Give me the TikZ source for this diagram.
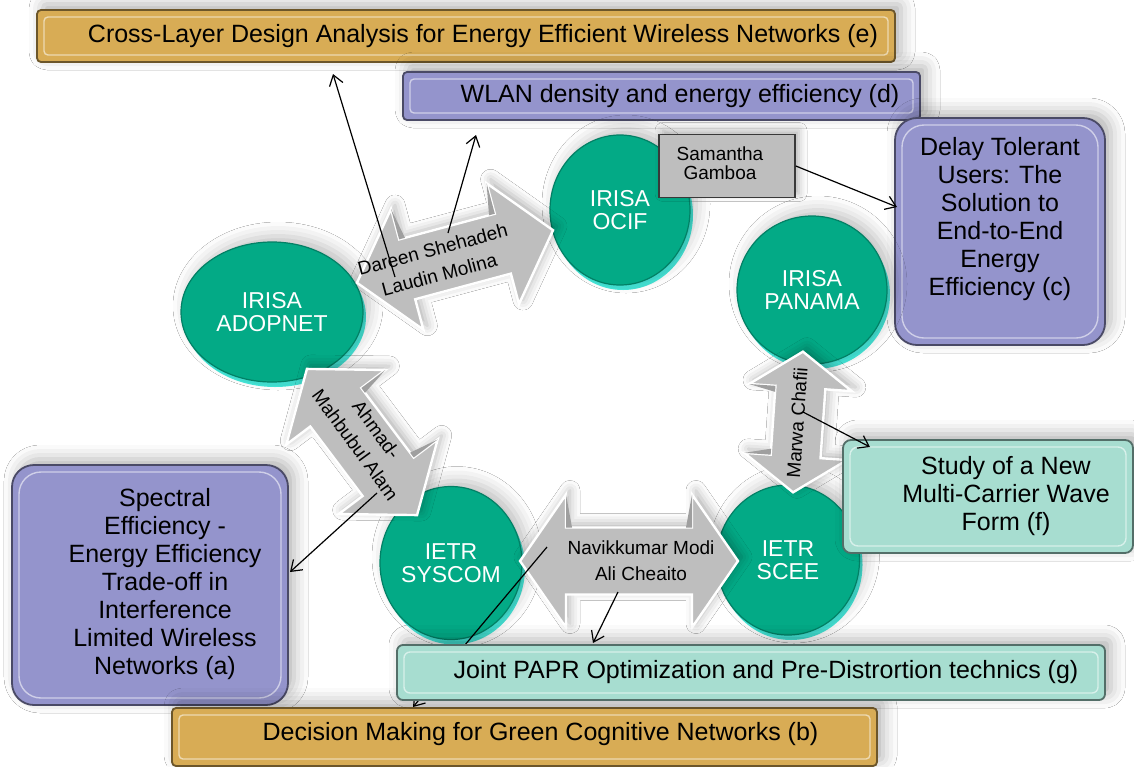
\documentclass[tikz,border=0pt]{standalone}
\usepackage{fontspec}
\setmainfont{Liberation Sans}
\usetikzlibrary{shapes.geometric,arrows.meta,shadows.blur}
\definecolor{gold}{HTML}{D8AC55}
\definecolor{lav}{HTML}{9494CC}
\definecolor{mint}{HTML}{A7DDD0}
\definecolor{orbteal}{HTML}{03AA86}
\definecolor{orbcyan}{HTML}{45E6D8}
\definecolor{arrgray}{HTML}{BEBEBE}
\newcommand\mlines[1]{\begin{tabular}{@{}c@{}}#1\end{tabular}}
% #1 name, #2 cx, #3 cy, #4 rotation, #5 length, #6 head width, #7 body width, #8 head length
\newcommand\dblarr[8]{%
  \begin{scope}[shift={(#2,#3)}, rotate=#4]
    \coordinate (#1) at (0,0);
    \path[arrowbody] ({-#5/2},0) -- ({-#5/2+#8},{-#6/2}) -- ({-#5/2+#8},{-#7/2})
      -- ({#5/2-#8},{-#7/2}) -- ({#5/2-#8},{-#6/2}) -- ({#5/2},0)
      -- ({#5/2-#8},{#6/2}) -- ({#5/2-#8},{#7/2}) -- ({-#5/2+#8},{#7/2})
      -- ({-#5/2+#8},{#6/2}) -- cycle;
    \fill[gray!75] ({-#5/2+#8},{-#6/2}) -- ({-#5/2+#8},{-#7/2}) -- ({-#5/2+#8+6},{-#7/2}) -- cycle;
    \fill[gray!75] ({#5/2-#8},{-#6/2}) -- ({#5/2-#8},{-#7/2}) -- ({#5/2-#8-6},{-#7/2}) -- cycle;
  \end{scope}}
\begin{document}
\begin{tikzpicture}[x=0.5pt,y=-0.5pt,
  every node/.style={inner sep=0pt},
  panel/.style 2 args={rectangle, rounded corners=#2, fill=#1, draw=#1!50!black,
    line width=0.9pt, font=\fontsize{12.5}{14}\selectfont,
    blur shadow={shadow xshift=3pt,shadow yshift=3pt,shadow blur radius=7pt,shadow opacity=30},
    path picture={\draw[#1!45!white, line width=0.7pt, rounded corners=#2]
      ([shift={(3.5pt,3.5pt)}]path picture bounding box.south west) rectangle
      ([shift={(-3.5pt,-3.5pt)}]path picture bounding box.north east);}},
  orb/.style={ellipse, fill=orbteal, draw=orbteal!75!black, line width=0.6pt,
    text=white, font=\fontsize{11.5}{11.5}\selectfont, align=center,
    blur shadow={shadow xshift=3pt,shadow yshift=3pt,shadow blur radius=7pt,shadow opacity=25}},
  rim/.style={fill=orbcyan},
  arrowbody/.style={fill=arrgray, draw=white, line width=1.2pt, line join=miter,
    blur shadow={shadow xshift=2pt,shadow yshift=2pt,shadow blur radius=5pt,shadow opacity=30}},
  lbl/.style={font=\fontsize{9.5}{13}\selectfont, align=center, text=black},
  conn/.style={line width=0.6pt, -{Straight Barb[length=5pt,width=7pt]}}]
\useasboundingbox (0,0) rectangle (1134,766);
\fill[white] (0,0) rectangle (1134,766);

% boxes
\node[panel={gold}{2pt}, minimum width=429pt, minimum height=26pt] (e) at (466,36)
  {\hspace*{17pt}Cross-Layer Design Analysis for Energy Efficient Wireless Networks (e)};
\node[panel={lav}{2pt}, minimum width=258.5pt, minimum height=24pt] (d) at (661.5,96)
  {\hspace*{18.5pt}WLAN density and energy efficiency (d)};
\node[panel={lav}{11pt}, minimum width=105pt, minimum height=113.5pt] (c) at (1000,231.5)
  {\mlines{Delay Tolerant\\Users: The\\Solution to\\End-to-End\\Energy\\Efficiency (c)\rule[-16pt]{0pt}{1pt}}};
\node[panel={lav}{11pt}, minimum width=138pt, minimum height=120pt] (a) at (150,585)
  {\hspace*{15pt}\mlines{Spectral\\Efficiency -\\Energy Efficiency\\Trade-off in\\Interference\\Limited Wireless\\Networks (a)}};
\node[panel={gold}{2pt}, minimum width=352.5pt, minimum height=29pt] (b) at (524.5,737)
  {\hspace*{16pt}Decision Making for Green Cognitive Networks (b)\rule[-5.5pt]{0pt}{1pt}};

% orbs
\fill[rim] (623,215) ellipse [x radius=70, y radius=75];
\node[orb, minimum width=70pt, minimum height=75pt] (ocif) at (620,210) {IRISA\\OCIF};
\fill[rim] (815,295) ellipse [x radius=75, y radius=74];
\node[orb, minimum width=75pt, minimum height=74pt] (panama) at (812,290) {IRISA\\PANAMA};
\fill[rim] (275,317) ellipse [x radius=91, y radius=70];
\node[orb, minimum width=91pt, minimum height=70pt] (adopnet) at (272,312) {IRISA\\ADOPNET};
\fill[rim] (454,568) ellipse [x radius=71, y radius=76.5];
\node[orb, minimum width=71pt, minimum height=76.5pt] (syscom) at (451,563) {IETR\\SYSCOM};
\fill[rim] (791,565) ellipse [x radius=71.5, y radius=75];
\node[orb, minimum width=71.5pt, minimum height=75pt] (scee) at (788,560) {IETR\\SCEE};

% double block arrows
\dblarr{ar1}{455}{256.5}{15}{203}{125}{62}{52}
\dblarr{ar2}{362}{442}{-53}{183}{124}{64}{48}
\dblarr{ar3}{629}{561}{0}{218}{133}{67}{46}
\dblarr{ar4}{798}{422}{86}{141}{103}{50}{36}

\node[lbl, rotate=15] (l1) at (436,262) {Dareen Shehadeh\\Laudin Molina};
\node[lbl, rotate=-54] (l2) at (366,437) {Ahmad-\\Mahbubul Alam};
\node[lbl] (l3) at (641,561) {Navikkumar Modi\\Ali Cheaito};
\node[lbl, rotate=86] (l4) at (797,423) {Marwa Chafii};

% Samantha box
\node[rectangle, fill=arrgray, draw=gray!45!black, line width=0.8pt,
  minimum width=68pt, minimum height=31.5pt, font=\fontsize{9.5}{9.5}\selectfont,
  blur shadow={shadow xshift=2pt,shadow yshift=2pt,shadow blur radius=4pt,shadow opacity=30}]
  (sam) at (727,166) {\mlines{Samantha\\Gamboa}\hspace*{7pt}};

% connector end points
\coordinate (c1s) at (395,277); \coordinate (c1e) at (333,74);
\coordinate (c2s) at (448,233); \coordinate (c2e) at (476,135);
\coordinate (c3e) at (897,207);
\coordinate (c4s) at (377,493); \coordinate (c4e) at (290,572);
\coordinate (c5s) at (803,412); \coordinate (c5e) at (870,447);
\coordinate (c6s) at (618,592); \coordinate (c6e) at (593,643);
\coordinate (c7s) at (547,547); \coordinate (c7e) at (413,707);

\node[panel={mint}{4pt}, minimum width=145pt, minimum height=56.5pt] (f) at (988,496.5)
  {\hspace*{18pt}\mlines{Study of a New\\Multi-Carrier Wave\\Form (f)}};

\draw[conn] (c1s) -- (c1e);
\draw[conn] (c2s) -- (c2e);
\draw[conn] (sam.east) -- (c3e);
\draw[conn] (c4s) -- (c4e);
\draw[conn] (c5s) -- (c5e);
\draw[conn] (c6s) -- (c6e);
\draw[conn] (c7s) -- (c7e);

\node[panel={mint}{3pt}, minimum width=354pt, minimum height=27.5pt] (g) at (751,672.5)
  {\hspace*{15pt}Joint PAPR Optimization and Pre-Distrortion technics (g)};
\end{tikzpicture}
\end{document}
